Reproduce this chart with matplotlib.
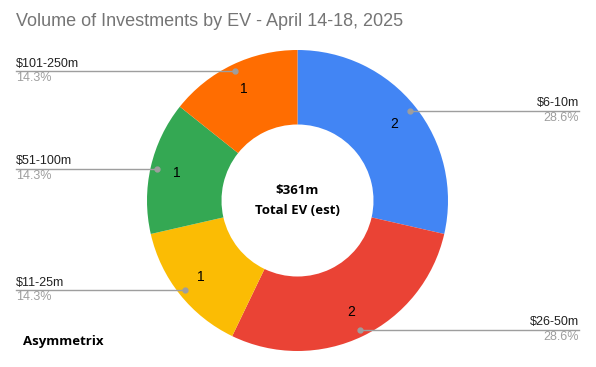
import numpy as np
import matplotlib.pyplot as plt

# slices in drawing order, clockwise from 12 o'clock
labels = ['$6-10m', '$26-50m', '$11-25m', '$51-100m', '$101-250m']
counts = [2, 2, 1, 1, 1]
colors = ['#4285F4', '#EA4335', '#FBBC04', '#34A853', '#FF6D01']
total_ev = '$361m'

W, H = 596, 367
fig = plt.figure(figsize=(W / 100, H / 100), dpi=100)
ax = fig.add_axes([0, 0, 1, 1])
ax.set_xlim(0, W)
ax.set_ylim(0, H)
ax.set_aspect('equal')
ax.axis('off')

cx, cy, R = 297.5, H - 200.5, 150.5
wedges, _ = ax.pie(counts, colors=colors, startangle=90, counterclock=False,
                   center=(cx, cy), radius=R,
                   wedgeprops=dict(width=R * 0.495, linewidth=0))
ax.set_xlim(0, W)
ax.set_ylim(0, H)

pcts = np.array(counts) / sum(counts) * 100
for w, lab, c, p in zip(wedges, labels, counts, pcts):
    ang = np.deg2rad((w.theta1 + w.theta2) / 2)
    dx, dy = np.cos(ang), np.sin(ang)
    # value label inside the ring
    ax.text(cx + dx * R * 0.82, cy + dy * R * 0.82, str(c), ha='center', va='center',
            fontsize=10, color='black', family='Liberation Sans')
    # leader dot + horizontal line
    px, py = cx + dx * R * 0.955, cy + dy * R * 0.955
    ax.plot(px, py, 'o', color='#9e9e9e', ms=3.5, zorder=5)
    if dx >= 0:
        xe, ha = 579, 'right'
    else:
        xe, ha = 16, 'left'
    ax.plot([px, xe], [py, py], color='#9e9e9e', lw=1, zorder=4)
    ax.text(xe, py + 1.5, lab, ha=ha, va='bottom', fontsize=9,
            color='#222222', family='Liberation Sans')
    ax.text(xe, py - 1, f'{p:.1f}%', ha=ha, va='top', fontsize=9,
            color='#9e9e9e', family='Liberation Sans')

ax.text(cx, H - 190, total_ev, ha='center', va='center', fontsize=9.5,
        fontweight='bold', family='Open Sans')
ax.text(cx, H - 211, 'Total EV (est)', ha='center', va='center', fontsize=9.5,
        fontweight='bold', family='Open Sans')

ax.text(16, H - 22, 'Volume of Investments by EV - April 14-18, 2025', ha='left',
        va='center', fontsize=13, color='#757575', family='Liberation Sans')
ax.text(23, H - 342, 'Asymmetrix', ha='left', va='center', fontsize=9.5,
        fontweight='bold', family='Open Sans')

fig.savefig('out.png', dpi=100)
